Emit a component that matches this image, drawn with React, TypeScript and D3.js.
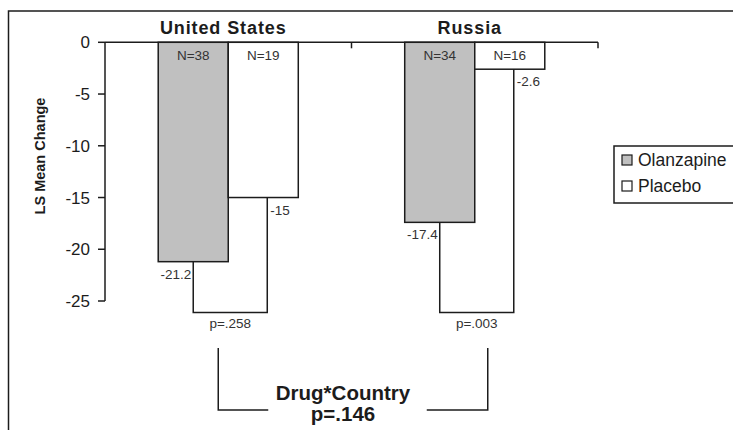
import React from 'react';
import * as d3 from 'd3';

// LS mean change by country and treatment arm
const countries = ['United States', 'Russia'];
const treatments = ['Olanzapine', 'Placebo'];
const olanzapineMeans = [-21.2, -17.4];
const placeboMeans = [-15, -2.6];
const olanzapineN = [38, 34];
const placeboN = [19, 16];
const withinCountryP = ['.258', '.003'];
const interactionName = 'Drug*Country';
const interactionP = '.146';
const yTickValues = [0, -5, -10, -15, -20, -25];
const yAxisTitle = 'LS Mean Change';

const W = 733;
const H = 430;
const FONT = '"Liberation Sans", Arial, Helvetica, sans-serif';
const INK = '#1c1c1c';
const LW = 1.5;

export default function App() {
  const x = d3.scaleBand<string>().domain(countries).range([105, 598]).paddingInner(0).paddingOuter(0);
  const sub = d3.scaleBand<string>().domain(treatments).range([0, x.bandwidth()]).paddingInner(0).paddingOuter(0.76);
  const y = d3.scaleLinear().domain([-25, 0]).range([301, 42.3]);
  const y0 = y(0);
  const bracketY = y(-26.1);

  const rows = countries.map((c, i) => ({
    country: c,
    values: [olanzapineMeans[i], placeboMeans[i]],
    ns: [olanzapineN[i], placeboN[i]],
    p: withinCountryP[i],
  }));

  return (
    <svg width={W} height={H} style={{ position: 'absolute', left: 0, top: 0, background: '#fff' }} fontFamily={FONT}>
      {/* frame */}
      <rect x={8.5} y={11} width={900} height={600} fill="none" stroke={INK} strokeWidth={LW} />

      {/* y axis */}
      <line x1={x.range()[0]} x2={x.range()[0]} y1={y(0)} y2={y(-25)} stroke={INK} strokeWidth={LW} />
      {yTickValues.map((t) => (
        <g key={t} transform={`translate(${x.range()[0]},${y(t)})`}>
          <line x1={-7} x2={0} stroke={INK} strokeWidth={LW} />
          <text x={-15} dy="0.36em" textAnchor="end" fontSize={17} fill={INK}>
            {t}
          </text>
        </g>
      ))}
      <text
        transform={`translate(45,156) rotate(-90)`}
        textAnchor="middle"
        fontSize={14.5}
        fontWeight="bold"
        fill={INK}
      >
        {yAxisTitle}
      </text>

      {/* bars */}
      {rows.map((r) =>
        treatments.map((t, j) => {
          const bx = (x(r.country) as number) + (sub(t) as number);
          const v = r.values[j];
          return (
            <rect
              key={r.country + t}
              x={bx}
              y={y0}
              width={sub.bandwidth()}
              height={y(v) - y0}
              fill={j === 0 ? '#c0c0c0' : '#ffffff'}
              stroke={INK}
              strokeWidth={LW}
            />
          );
        })
      )}

      {/* category axis along zero */}
      <line x1={x.range()[0]} x2={x.range()[1]} y1={y0} y2={y0} stroke={INK} strokeWidth={LW} />
      {countries.map((c, i) => {
        const tx = (x(c) as number) + x.bandwidth();
        return <line key={'tk' + i} x1={tx} x2={tx} y1={y0} y2={y0 + 6} stroke={INK} strokeWidth={LW} />;
      })}
      {countries.map((c) => (
        <text
          key={'ct' + c}
          x={(x(c) as number) + x.bandwidth() / 2 - 5}
          y={34}
          textAnchor="middle"
          fontSize={18}
          fontWeight="bold"
          letterSpacing={0.9}
          fill={INK}
        >
          {c}
        </text>
      ))}

      {/* N labels, value labels and within-country brackets */}
      {rows.map((r) => {
        const ox = x(r.country) as number;
        const cA = ox + (sub(treatments[0]) as number) + sub.bandwidth() / 2;
        const cB = ox + (sub(treatments[1]) as number) + sub.bandwidth() / 2 + 4;
        const bA = y(r.values[0]);
        const bB = y(r.values[1]);
        return (
          <g key={'br' + r.country}>
            {treatments.map((t, j) => (
              <text
                key={'n' + t}
                x={ox + (sub(t) as number) + sub.bandwidth() / 2}
                y={y0 + 18}
                textAnchor="middle"
                fontSize={13.5}
                fill="#333"
              >
                {`N=${r.ns[j]}`}
              </text>
            ))}
            <path
              d={`M${cA},${bA}V${bracketY}H${cB}V${bB}`}
              fill="none"
              stroke={INK}
              strokeWidth={LW}
            />
            <text x={cA - 2} y={bA + 17} textAnchor="end" fontSize={13.5} fill="#333">
              {r.values[0]}
            </text>
            <text x={cB + 3} y={bB + 17} textAnchor="start" fontSize={13.5} fill="#333">
              {r.values[1]}
            </text>
            <text x={(cA + cB) / 2} y={bracketY + 16} textAnchor="middle" fontSize={13.5} fill="#333">
              {`p=${r.p}`}
            </text>
          </g>
        );
      })}

      {/* drug-by-country interaction bracket */}
      {(() => {
        const left = (x(countries[0]) as number) + x.bandwidth() / 2 - 10;
        const right = (x(countries[1]) as number) + x.bandwidth() / 2 + 13;
        const top = 348;
        const bottom = 410;
        const mid = (left + right) / 2 - 10;
        return (
          <g>
            <path d={`M${left},${top}V${bottom}H${left + 50}`} fill="none" stroke={INK} strokeWidth={LW} />
            <path d={`M${right},${top}V${bottom}H${right - 61}`} fill="none" stroke={INK} strokeWidth={LW} />
            <text x={mid} y={400} textAnchor="middle" fontSize={20.5} fontWeight="bold" fill={INK}>
              {interactionName}
            </text>
            <text x={mid} y={421} textAnchor="middle" fontSize={20.5} fontWeight="bold" fill={INK}>
              {`p=${interactionP}`}
            </text>
          </g>
        );
      })()}

      {/* legend */}
      <rect x={614} y={146} width={200} height={57} fill="#fff" stroke={INK} strokeWidth={LW} />
      {treatments.map((t, j) => (
        <g key={'lg' + t} transform={`translate(622,${160 + j * 26})`}>
          <rect x={0} y={-5} width={10} height={10} fill={j === 0 ? '#c0c0c0' : '#ffffff'} stroke={INK} strokeWidth={1.2} />
          <text x={16} dy="0.36em" fontSize={17.5} fill={INK}>
            {t}
          </text>
        </g>
      ))}
    </svg>
  );
}
